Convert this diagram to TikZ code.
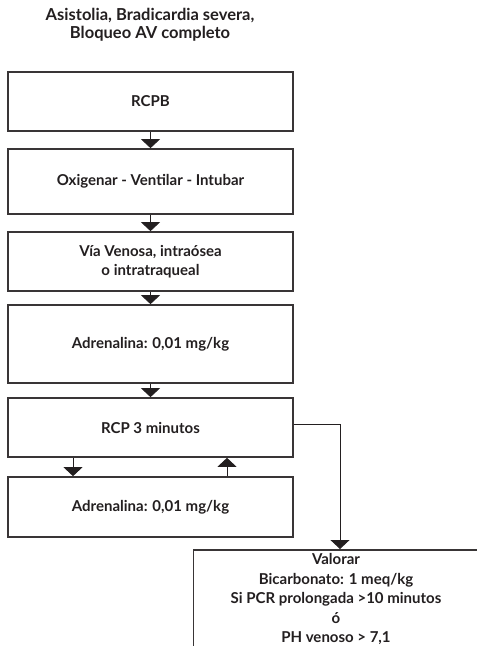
\documentclass[tikz,border=0pt]{standalone}
\usepackage{fontspec}
\setmainfont{Lato}
\usetikzlibrary{arrows.meta}
\definecolor{ink}{HTML}{231F20}
\tikzset{
  stepbox/.style={draw=ink!90, line width=1.7pt, fill=white, minimum width=285pt,
    text=ink, font=\bfseries\fontsize{15}{19.5}\selectfont, align=center, inner sep=0pt},
  flow/.style={draw=ink, line width=0.9pt, -{Triangle[width=19pt,length=9pt]}},
  label/.style={text=ink, font=\bfseries\fontsize{16.5}{18}\selectfont, align=center}
}
\begin{document}
\begin{tikzpicture}[x=1pt,y=-1pt]
  \useasboundingbox (0,0) rectangle (477,646);
  \clip (0,0) rectangle (477,646);
  \fill[white] (0,0) rectangle (477,646);

  % heading
  \node[label] (title) at (150,25) {Asistolia, Bradicardia severa,\\Bloqueo AV completo};

  % main column of steps
  \node[stepbox, minimum height=59pt] (b1) at (150.5,101.5) {RCPB};
  \node[stepbox, minimum height=65pt] (b2) at (150.5,181.5) {Oxigenar - Ventilar - Intubar};
  \node[stepbox, minimum height=59pt] (b3) at (150.5,261.5) {Vía Venosa, intraósea\\o intratraqueal};
  \node[stepbox, minimum height=78pt] (b4) at (150.5,344) {Adrenalina: 0,01 mg/kg};
  \node[stepbox, minimum height=59pt] (b5) at (150.5,427.5) {RCP 3 minutos};
  \node[stepbox, minimum height=60pt] (b6) at (150.5,507) {Adrenalina: 0,01 mg/kg};

  % bicarbonate box, running past the right and lower edges
  \node[stepbox, anchor=north, inner ysep=3.5pt] (b7) at (336,549)
    {Valorar\\Bicarbonato: 1 meq/kg\\Si PCR prolongada >10 minutos\\ó\\PH venoso > 7,1\rule[-30pt]{0pt}{0pt}};

  % connectors
  \draw[flow] (b1.south) -- (b2.north);
  \draw[flow] (b2.south) -- (b3.north);
  \draw[flow] (b3.south) -- (b4.north);
  \draw[flow] (b4.south) -- (b5.north);
  \draw[flow] (b5.south -| 73,0) -- (b6.north -| 73,0);
  \draw[flow] (b6.north -| 227,0) -- (b5.south -| 227,0);
  \coordinate (turn) at (340,424);
  \draw[flow] (b5.east |- turn) -- (turn) -- (turn |- b7.north);
\end{tikzpicture}
\end{document}
